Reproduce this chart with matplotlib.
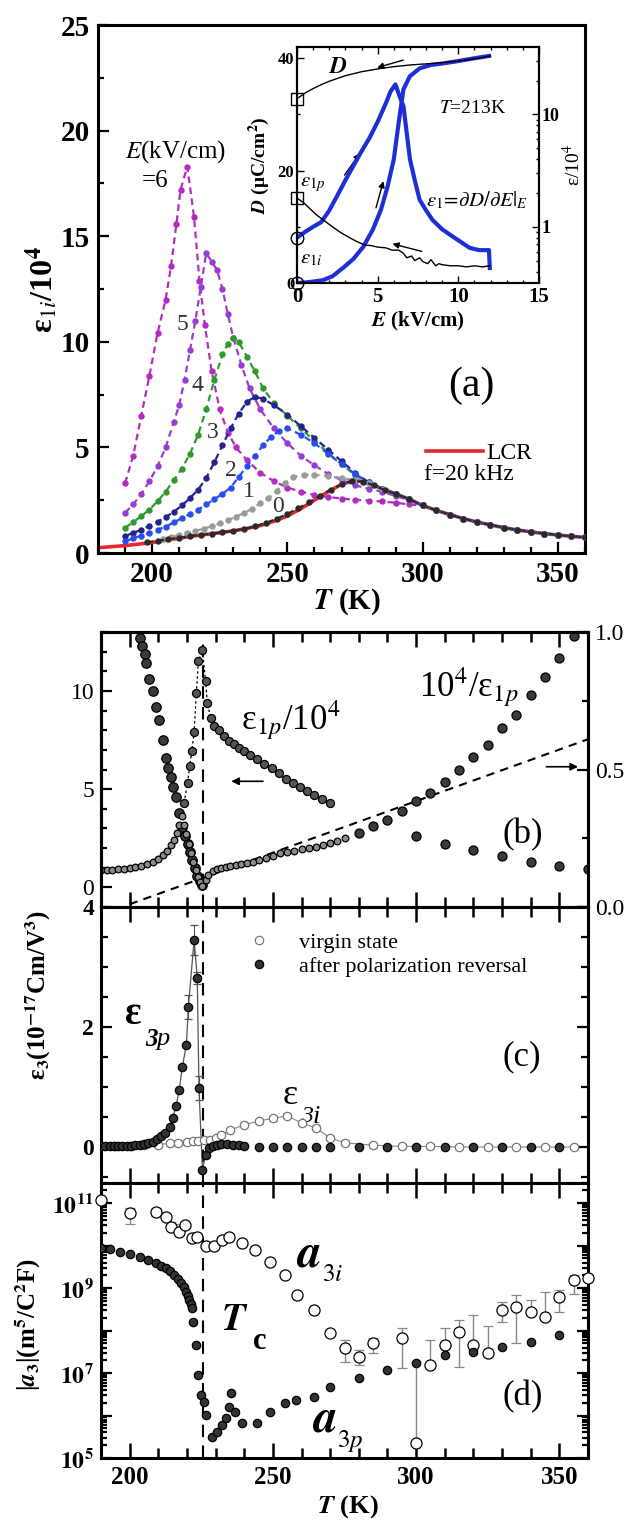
import numpy as np
import matplotlib
matplotlib.use('Agg')
import matplotlib.pyplot as plt
from matplotlib.ticker import MultipleLocator, FixedLocator, FuncFormatter, LogLocator, NullFormatter
from matplotlib.lines import Line2D

plt.rcParams['font.family'] = 'serif'
plt.rcParams['font.serif'] = ['Liberation Serif', 'DejaVu Serif']
plt.rcParams['mathtext.fontset'] = 'stix'

# ---------------- panel (a): eps_1i/10^4 vs T at several bias fields
tail_T = [300, 305, 310, 315, 320, 325, 330, 335, 340, 345, 350, 355, 360]
tail_v = [2.25, 2.02, 1.82, 1.63, 1.47, 1.33, 1.2, 1.09, 1.0, 0.92, 0.85, 0.79, 0.74]

lcr_T = [180, 185, 190, 195, 200, 205, 210, 215, 220, 225, 230, 235, 240, 245, 250, 255, 260, 265, 270, 275, 280, 285, 290, 295]
lcr_v = [0.25, 0.3, 0.35, 0.42, 0.5, 0.6, 0.7, 0.8, 0.88, 0.96, 1.05, 1.16, 1.3, 1.5, 1.75, 2.1, 2.5, 2.9, 3.25, 3.45, 3.3, 3.05, 2.8, 2.55]

c0_T = [198, 202, 206, 210, 214, 218, 222, 226, 230, 234, 238, 242, 246, 250, 254, 258, 262, 266, 270, 274, 278, 282, 286, 290, 295]
c0_v = [0.5, 0.58, 0.65, 0.72, 0.8, 0.86, 0.92, 0.98, 1.05, 1.14, 1.26, 1.42, 1.62, 1.85, 2.12, 2.4, 2.7, 3.0, 3.25, 3.42, 3.38, 3.2, 2.98, 2.8, 2.55]
c1_T = [204, 207, 210, 213, 216, 219, 222, 225, 228, 231, 234, 237, 240, 243, 246, 249, 252, 256, 260, 265, 270, 275, 280, 285, 290, 295]
c1_v = [0.65, 0.75, 0.85, 0.95, 1.05, 1.15, 1.27, 1.4, 1.55, 1.72, 1.9, 2.1, 2.35, 2.6, 2.95, 3.3, 3.6, 3.7, 3.7, 3.65, 3.55, 3.45, 3.3, 3.05, 2.8, 2.55]
c2_T = [190, 193, 196, 199, 202, 205, 208, 211, 214, 217, 220, 223, 226, 229, 232, 235, 238, 241, 244, 247, 250, 255, 260, 265, 270, 275, 280, 285, 290, 295]
c2_v = [0.55, 0.7, 0.82, 0.95, 1.1, 1.25, 1.45, 1.65, 1.85, 2.05, 2.3, 2.55, 2.8, 3.1, 3.6, 4.1, 4.6, 5.1, 5.5, 5.8, 5.9, 5.6, 5.2, 4.7, 4.2, 3.75, 3.35, 3.05, 2.8, 2.55]
c3_T = [190, 193, 196, 199, 202, 205, 208, 211, 214, 217, 220, 223, 226, 229, 232, 235, 238, 241, 245, 250, 255, 260, 265, 270, 275, 280, 285, 290, 295]
c3_v = [0.8, 0.95, 1.1, 1.28, 1.48, 1.7, 1.95, 2.25, 2.6, 3.0, 3.55, 4.3, 5.1, 5.9, 6.6, 7.15, 7.4, 7.3, 7.0, 6.55, 6.0, 5.45, 4.9, 4.35, 3.8, 3.35, 3.05, 2.8, 2.55]
c4_T = [190, 193, 196, 199, 202, 205, 208, 211, 214, 217, 220, 223, 226, 228, 230, 232, 235, 238, 241, 245, 250, 255, 260, 265, 270, 275, 280, 285, 290, 295]
c4_v = [1.2, 1.45, 1.75, 2.05, 2.45, 2.9, 3.45, 4.0, 4.7, 5.6, 6.8, 8.2, 9.4, 9.9, 10.2, 10.0, 9.3, 8.6, 7.8, 7.1, 6.5, 5.9, 5.3, 4.75, 4.2, 3.7, 3.3, 3.05, 2.8, 2.55]
c5_T = [190, 193, 196, 199, 202, 205, 208, 210, 212, 214, 216, 218, 220, 222, 224, 226, 228, 230, 233, 236, 240, 245, 250, 255, 260, 265, 270, 275, 280, 285, 290, 295]
c5_v = [1.9, 2.3, 2.8, 3.4, 4.1, 5.0, 6.2, 7.0, 8.2, 9.6, 11.0, 12.6, 14.2, 13.8, 13.4, 12.5, 11.3, 10.2, 8.9, 7.8, 6.8, 5.9, 5.2, 4.6, 4.15, 3.75, 3.45, 3.2, 3.05, 2.9, 2.7, 2.5]
c6_T = [190, 193, 196, 199, 202, 205, 207, 209, 210.5, 213, 215.5, 217.5, 219.5, 222, 225, 228, 231, 235, 240, 245, 250, 255, 260, 265, 270, 275, 280, 285, 290, 295]
c6_v = [3.3, 4.6, 6.5, 8.4, 10.4, 12.0, 13.6, 15.6, 17.2, 18.3, 15.9, 12.9, 10.8, 8.6, 6.8, 5.7, 5.0, 4.4, 3.8, 3.4, 3.1, 2.9, 2.75, 2.65, 2.58, 2.52, 2.48, 2.44, 2.38, 2.3]

field_curves = [(c6_T, c6_v, '#b22cc0'), (c5_T, c5_v, '#9a3cd0'), (c4_T, c4_v, '#2e9a2e'),
                (c3_T, c3_v, '#23238f'), (c2_T, c2_v, '#2a4df0'), (c1_T, c1_v, '#9a9a9a'),
                (c0_T, c0_v, '#2a2a2a')]
field_labels = ['5', '4', '3', '2', '1', '0']
field_label_T = [211.3, 216.8, 222.4, 229.0, 235.8, 246.6]
field_label_v = [10.8, 7.95, 5.7, 3.9, 2.9, 2.2]

# inset: D and eps_1 vs E at T = 213 K
E_up = [0, 0.5, 1, 1.6, 2.2, 2.9, 3.5, 4.1, 4.7, 5.2, 5.6, 6.0, 6.3, 6.6, 7.0, 7.6, 8.3, 9.1, 10, 11, 11.9]
D_up = [0, 0.1, 0.25, 0.5, 1.2, 2.8, 4.3, 6.4, 9.5, 13.0, 17.0, 22.0, 28.5, 34.5, 36.8, 38.2, 38.8, 39.1, 39.5, 40.0, 40.4]
E_dn = [0, 0.5, 1, 1.5, 2, 3, 4, 5, 6, 7, 8, 9, 10, 11, 12]
D_dn = [32.8, 33.8, 34.6, 35.3, 35.9, 36.9, 37.6, 38.1, 38.5, 38.8, 39.0, 39.2, 39.5, 39.9, 40.4]
Eps_E_up = [0, 0.5, 1, 1.5, 2, 2.5, 3, 3.5, 4, 4.5, 5, 5.5, 5.8, 6.1, 6.4, 6.6, 7.0, 7.3, 7.6, 8.0, 8.4, 9.0, 9.7, 10.7, 11.3, 11.9, 11.95]
Eps_up = [0.8, 0.9, 1.0, 1.1, 1.4, 1.9, 2.6, 3.5, 4.7, 6.2, 8.6, 12.5, 16.0, 18.5, 14.0, 11.8, 4.0, 2.6, 1.74, 1.4, 1.15, 0.95, 0.81, 0.65, 0.62, 0.62, 0.43]
Eps_E_dn = [11.95, 11.5, 11.0, 10.5, 10.0, 9.5, 9.0, 8.8, 8.6, 8.3, 8.1, 7.8, 7.6, 7.3, 7.1, 6.8, 6.6, 6.3, 5.9, 5.5, 5.0, 4.6, 4.2, 3.7, 3.2, 2.7, 2.2, 1.7, 1.2, 0.8, 0.45, 0.2, 0]
Eps_dn = [0.45, 0.44, 0.45, 0.44, 0.45, 0.45, 0.46, 0.47, 0.45, 0.51, 0.47, 0.49, 0.53, 0.5, 0.55, 0.53, 0.58, 0.62, 0.62, 0.65, 0.66, 0.68, 0.69, 0.74, 0.81, 0.89, 1.0, 1.13, 1.28, 1.45, 1.62, 1.72, 1.8]

# ---------------- panel (b)
Tc = 225.5
bA_T = [201.5, 202.5, 203.5, 204.4, 205.2, 205.8, 206.9, 208, 209.2, 210.4, 211.5, 212.7, 213.5, 214.4, 215.3, 216.2, 217.3, 218.4, 219.3, 220.2, 221.0, 221.9, 222.8, 223.6, 224.5, 225.4]
bA_v = [13.6, 13.2, 12.7, 12.3, 11.9, 11.4, 10.6, 10.0, 9.2, 8.5, 7.5, 6.6, 6.1, 5.6, 5.1, 4.6, 3.8, 3.05, 2.6, 2.23, 1.8, 1.37, 1.0, 0.6, 0.3, 0.1]
bP_T = [219, 220.2, 221, 221.7, 222.5, 223.3, 224, 225.4, 226.5, 227.1, 228.3, 229.4, 231.1, 232.9, 234.6, 236.3, 238, 239.8, 242, 244.4, 247, 249.6, 252, 254.7, 257, 259.6, 262, 264.5, 267, 270]
bP_v = [4.3, 5.3, 6.2, 6.95, 7.9, 9.9, 11.5, 12.1, 10.5, 9.4, 8.6, 8.2, 8.0, 7.7, 7.45, 7.3, 7.1, 6.95, 6.75, 6.55, 6.3, 6.1, 5.8, 5.5, 5.3, 5.1, 4.9, 4.7, 4.5, 4.3]
bS_T = [300, 310, 320, 330, 340, 350, 360]
bS_v = [2.6, 2.2, 1.9, 1.6, 1.3, 1.1, 0.95]
rec_T = [190, 192, 194, 196, 198, 200, 202, 204, 206, 208, 210, 211.5, 213, 214.5, 215.5, 216.5, 217.3, 218.2,
         219, 219.8, 220.6, 221.4, 222.2, 223, 223.8, 224.6, 225.4, 226.5, 227.5, 229, 230.5, 232, 233.5, 235,
         237, 239, 241, 243, 245, 247.5, 250, 252.5, 255, 257.5, 260, 262.5, 265, 267.5, 270, 272.5, 275]
rec_v = [0.135, 0.135, 0.136, 0.138, 0.14, 0.142, 0.146, 0.15, 0.156, 0.163, 0.175, 0.188, 0.205, 0.225, 0.245, 0.27, 0.3, 0.33,
         0.3, 0.265, 0.23, 0.195, 0.165, 0.135, 0.11, 0.09, 0.075, 0.1, 0.118, 0.132, 0.138, 0.142, 0.146, 0.149,
         0.152, 0.155, 0.16, 0.164, 0.17, 0.178, 0.186, 0.195, 0.2, 0.205, 0.21, 0.215, 0.22, 0.226, 0.233, 0.24, 0.25]
recS_T = [280, 285, 290, 295, 300, 305, 310, 315, 320, 325, 330, 335, 340, 345, 350, 355]
recS_v = [0.27, 0.295, 0.318, 0.35, 0.385, 0.415, 0.455, 0.5, 0.545, 0.59, 0.65, 0.7, 0.77, 0.835, 0.905, 0.985]
cw_T = [200, 360]
cw_v = [0.01, 0.61]

# ---------------- panel (c)
cp_T = [190, 191.5, 193, 194.5, 196, 197.5, 199, 200.5, 202, 203.5, 205, 206.5, 208, 209.5, 211, 212.5, 214, 215,
        216.2, 217.3, 218.4, 219.8, 220.5, 222.5, 223.6, 224.2, 225.4, 226.5, 227.7, 229, 230.5, 232, 234, 236,
        238, 240, 245, 250, 255, 260, 265, 270, 280, 290, 300, 310, 320, 330, 340, 350]
cp_v = [0.01, 0.01, 0.01, 0.015, 0.015, 0.02, 0.02, 0.025, 0.03, 0.035, 0.045, 0.06, 0.09, 0.13, 0.18, 0.24, 0.33, 0.48,
        0.68, 0.95, 1.34, 1.7, 2.33, 3.45, 2.82, 0.98, -0.38, -0.13, -0.02, 0.02, 0.04, 0.05, 0.05, 0.04,
        0.03, 0.02, 0, 0, 0, 0, 0, 0, 0, 0, 0, 0, 0, 0, 0, 0]
cp_err = [0] * 22 + [0.2, 0.25, 0.1, 0.2] + [0] * 24
ci_T = [195, 200, 205, 210, 214, 217, 220, 222, 224, 226, 228, 230, 232, 235, 240, 245, 250, 255, 260, 265, 270, 275, 285, 295, 305, 315, 325, 335, 345, 355]
ci_v = [0.02, 0.02, 0.03, 0.04, 0.06, 0.07, 0.08, 0.1, 0.1, 0.12, 0.12, 0.15, 0.2, 0.28, 0.37, 0.43, 0.48, 0.52, 0.4, 0.32, 0.15, 0.07, 0.03, 0.01, 0.01, 0, 0, 0, 0, 0]
ci_err = [0.04] * 30

# ---------------- panel (d): log10 |a3|
dp_T = [190, 193, 196.5, 200, 203.5, 206.5, 209.2, 211, 212.7, 214.2, 215.6, 216.8, 217.9, 218.8, 219.6, 220.3, 220.8,
        221.4, 221.9, 222.2, 223, 224, 224.8, 226, 226.8, 228.8, 230.6, 232.3, 233.5, 234.6, 235.5, 236.9, 239.2,
        244.4, 249, 254.2, 258.2, 264.5, 270, 280, 290, 300, 310, 320, 330, 340, 350]
dp_log = [9.94, 9.92, 9.85, 9.8, 9.73, 9.66, 9.59, 9.53, 9.47, 9.4, 9.31, 9.22, 9.12, 9.02, 8.91, 8.82, 8.72,
          8.63, 8.53, 8.2, 7.66, 6.95, 6.48, 6.32, 6.01, 5.49, 5.61, 5.78, 5.94, 6.2, 6.53, 6.08, 5.82,
          5.82, 6.08, 6.29, 6.36, 6.44, 6.67, 6.88, 7.07, 7.24, 7.42, 7.5, 7.61, 7.73, 7.89]
di_T = [190, 200, 209.2, 212.7, 214.4, 217.3, 219.4, 221.9, 223.6, 226.5, 229.4, 232.3, 234.6, 239.2, 243.8, 249, 254.2,
        258.5, 264.5, 270, 275, 280, 285, 295, 300, 305, 310, 315, 320, 325, 330, 335, 340, 345, 350, 355, 360]
di_log = [11.07, 10.76, 10.79, 10.67, 10.44, 10.32, 10.48, 10.18, 10.2, 10.0, 10.0, 10.13, 10.2, 10.06, 9.9, 9.62, 9.31,
          8.84, 8.48, 7.94, 7.59, 7.38, 7.7, 7.82, 5.35, 7.19, 7.66, 7.96, 7.66, 7.47, 8.48, 8.56, 8.44, 8.33, 8.8, 9.19, 9.23]
di_lo = [11.07, 10.5, 10.7, 10.6, 10.38, 10.25, 10.48, 10.1, 10.1, 9.95, 10.0, 10.13, 10.2, 10.06, 9.9, 9.62, 9.31,
         8.84, 8.48, 7.94, 7.26, 7.2, 7.47, 7.12, 5.35, 7.19, 7.62, 7.14, 7.54, 7.47, 8.2, 7.7, 8.44, 8.33, 8.44, 8.86, 9.23]
di_hi = [11.07, 10.9, 10.88, 10.75, 10.55, 10.5, 10.52, 10.25, 10.3, 10.05, 10.0, 10.13, 10.2, 10.06, 9.9, 9.62, 9.31,
         8.84, 8.48, 7.94, 7.78, 7.55, 7.82, 8.06, 7.26, 7.78, 8.06, 8.25, 8.36, 8.1, 8.68, 8.84, 8.72, 8.9, 8.96, 9.3, 9.23]

W, H = 633, 1524
def box(l, t, r, b):
    return [l / W, 1 - b / H, (r - l) / W, (b - t) / H]

fig = plt.figure(figsize=(W / 100, H / 100), dpi=100)
ax_a = fig.add_axes(box(98, 25, 585, 553))
ax_b = fig.add_axes(box(101, 632, 588, 907))
ax_c = fig.add_axes(box(101, 907, 588, 1183))
ax_d = fig.add_axes(box(101, 1183, 588, 1458))
ins = fig.add_axes(box(297, 47, 539, 283))

# ----- (a)
for T, v, c in field_curves:
    ax_a.plot(T + tail_T, v + tail_v, ls='--', dashes=(3, 2), lw=1.6, color=c,
              marker='o', ms=3.6, mfc=c, mec=c, zorder=3)
lcr_line, = ax_a.plot(lcr_T + tail_T, lcr_v + tail_v, '-', color='#e8262b', lw=2.6, zorder=2)
for s, x, y in zip(field_labels, field_label_T, field_label_v):
    ax_a.text(x, y, s, fontsize=17, color='#333333', ha='center', va='center')
ax_a.text(208.5, 19.0, r'$E$(kV/cm)', fontsize=18, ha='center', va='center')
ax_a.text(201, 17.6, '=6', fontsize=18, ha='center', va='center')
ax_a.text(318, 7.9, '(a)', fontsize=30, ha='center', va='center')
ax_a.text(300.4, 3.7, 'f=20 kHz', fontsize=17, ha='left', va='center')
ax_a.legend([lcr_line], ['LCR'], loc='upper left', bbox_to_anchor=(0.63, 0.25), frameon=False,
            fontsize=17, handlelength=2.4, handletextpad=0.15)
ax_a.set_xlim(180, 360)
ax_a.set_ylim(0, 25)
ax_a.xaxis.set_major_locator(MultipleLocator(50))
ax_a.xaxis.set_minor_locator(MultipleLocator(10))
ax_a.yaxis.set_major_locator(MultipleLocator(5))
ax_a.yaxis.set_minor_locator(MultipleLocator(2.5))
ax_a.tick_params(which='both', direction='in', width=1.6, labelsize=21, pad=6)
ax_a.tick_params(which='major', length=8)
ax_a.tick_params(which='minor', length=4)
plt.setp(ax_a.get_xticklabels() + ax_a.get_yticklabels(), fontweight='bold')
for sp in ax_a.spines.values():
    sp.set_linewidth(2.2)
fig.text(42 / W, 1 - 290 / H, 'ε$_{1i}$/10$^{\\mathbf{4}}$', rotation=90, fontsize=23, fontweight='bold',
         ha='center', va='center')
fig.text(347 / W, 1 - 602 / H, r'$\mathbfit{T}$ (K)', fontsize=21, fontweight='bold', ha='center', va='center')

# ----- inset
ins2 = ins.twinx()
ins.plot(E_up, D_up, '-', color='#1f2fd6', lw=3, zorder=3)
ins.plot(E_dn, D_dn, '-', color='k', lw=1.0, zorder=4)
ins2.plot(Eps_E_up, Eps_up, '-', color='#1f2fd6', lw=3)
ins2.plot(Eps_E_dn, Eps_dn, '-', color='k', lw=1.0)
ins.plot(E_dn[:1], D_dn[:1], 's', ms=9, mfc='none', mec='k', mew=1.0, clip_on=False, zorder=5)
ins.plot(E_up[:1], D_up[:1], 'o', ms=9, mfc='none', mec='k', mew=1.0, clip_on=False, zorder=5)
ins2.plot(Eps_E_dn[-1:], Eps_dn[-1:], 's', ms=9, mfc='none', mec='k', mew=1.0, clip_on=False, zorder=5)
ins2.plot(Eps_E_up[:1], Eps_up[:1], 'o', ms=9, mfc='none', mec='k', mew=1.0, clip_on=False, zorder=5)
arrow = dict(arrowstyle='-|>', color='k', lw=1.0, mutation_scale=9)
ins.annotate('', xy=(4.8, 38.2), xytext=(6.75, 39.8), arrowprops=arrow)
ins.annotate('', xy=(4.0, 23.5), xytext=(2.85, 18.8), arrowprops=arrow)
ins.annotate('', xy=(5.4, 18.6), xytext=(4.85, 12.9), arrowprops=arrow)
ins.annotate('', xy=(5.75, 7.1), xytext=(7.9, 5.5), arrowprops=arrow)
ins.text(2.5, 38.3, r'$\mathbfit{D}$', fontsize=17, ha='center', va='center')
ins.text(10.9, 31.0, r'$T$=213K', fontsize=14, ha='center', va='center')
ins.text(8.0, 14.7, r'$\varepsilon_{1}\!=\!\partial D/\partial E|_{E}$', fontsize=15, ha='left', va='center')
ins.text(0.2, 17.6, r'$\varepsilon_{1p}$', fontsize=15, ha='left', va='center')
ins.text(0.2, 4.3, r'$\varepsilon_{1i}$', fontsize=15, ha='left', va='center')
ins.set_xlim(0, 15)
ins.set_ylim(0, 42)
ins2.set_yscale('log')
ins2.set_ylim(10 ** -0.5, 10 ** 1.6)
ins.xaxis.set_major_locator(MultipleLocator(5))
ins.xaxis.set_minor_locator(MultipleLocator(1))
ins.yaxis.set_major_locator(MultipleLocator(20))
ins.yaxis.set_minor_locator(MultipleLocator(10))
ins.tick_params(which='both', direction='in', top=True, width=1.0, pad=3)
ins.tick_params(which='major', length=5)
ins.tick_params(which='minor', length=2.5)
ins.tick_params(axis='x', labelsize=15)
ins.tick_params(axis='y', labelsize=12, pad=2)
ins2.yaxis.set_major_locator(FixedLocator([1, 10]))
ins2.yaxis.set_major_formatter(FuncFormatter(lambda v, p: '%g' % v))
ins2.yaxis.set_minor_locator(LogLocator(base=10, subs=np.arange(2, 10)))
ins2.yaxis.set_minor_formatter(NullFormatter())
ins2.tick_params(which='both', direction='in', width=1.0, labelsize=13, pad=2)
ins2.tick_params(which='major', length=5)
ins2.tick_params(which='minor', length=2.5)
plt.setp(ins.get_xticklabels() + ins.get_yticklabels() + ins2.get_yticklabels(), fontweight='bold')
for a in (ins, ins2):
    for sp in a.spines.values():
        sp.set_linewidth(1.5)
ins.set_xlabel(r'$\mathbfit{E}$ (kV/cm)', fontsize=15, fontweight='bold', labelpad=2)
ins.set_ylabel(r'$\mathbfit{D}$ (μC/cm$^{\mathbf{2}}$)', fontsize=14, fontweight='bold', labelpad=4)
ins2.set_ylabel('ε/10$^4$', fontsize=14, rotation=90, labelpad=2)

# ----- shared style for (b), (c), (d)
def style_lower(ax, labels):
    ax.set_xlim(190, 360)
    ax.xaxis.set_major_locator(MultipleLocator(50))
    ax.xaxis.set_minor_locator(MultipleLocator(10))
    ax.tick_params(axis='x', which='both', direction='in', top=True, bottom=True, width=1.8,
                   labelbottom=labels, labelsize=18, pad=6)
    ax.tick_params(axis='x', which='major', length=11)
    ax.tick_params(axis='x', which='minor', length=7)
    for sp in ax.spines.values():
        sp.set_linewidth(2.2)

# ----- (b)
ax_b2 = ax_b.twinx()
ax_b.axvline(Tc, ymax=0.955, color='k', ls='--', dashes=(6, 4), lw=1.5, zorder=1)
ax_b2.plot(cw_T, cw_v, '--', color='k', dashes=(4, 3), lw=1.5)
ax_b2.plot(rec_T, rec_v, 'o', ms=4.8, mfc='#8c8c8c', mec='k', mew=0.9)
ax_b2.plot(recS_T, recS_v, 'o', ms=6.5, mfc='#3a3a3a', mec='k', mew=0.9, clip_on=False)
ax_b.plot(bA_T, bA_v, 'o', ms=6.8, mfc='#3a3a3a', mec='k', mew=0.9, zorder=3)
ax_b.plot(bP_T, bP_v, 'o', ls=(0, (2, 2)), lw=0.9, color='k', ms=5.8, mfc='#555555', mec='k', mew=0.9, zorder=3)
ax_b.plot(bS_T, bS_v, 'o', ms=6.5, mfc='#3a3a3a', mec='k', mew=0.9, zorder=3)
ax_b.annotate('', xy=(234.5, 5.4), xytext=(247.5, 5.4),
              arrowprops=dict(arrowstyle='-|>', color='k', lw=1.2, mutation_scale=11))
ax_b2.annotate('', xy=(357.5, 0.51), xytext=(344.5, 0.51),
               arrowprops=dict(arrowstyle='-|>', color='k', lw=1.2, mutation_scale=11))
ax_b.text(239, 8.5, 'ε$_{1p}$/10$^4$', fontsize=25, ha='left', va='center')
ax_b.text(301, 10.2, '10$^4$/ε$_{1p}$', fontsize=25, ha='left', va='center')
ax_b.text(330, 2.7, '(b)', fontsize=25, ha='left', va='center')
ax_b.set_ylim(-1, 13)
ax_b.yaxis.set_major_locator(MultipleLocator(5))
ax_b.yaxis.set_minor_locator(MultipleLocator(1))
ax_b.tick_params(axis='y', which='both', direction='in', width=1.6, labelsize=17, pad=5)
ax_b.tick_params(axis='y', which='major', length=8)
ax_b.tick_params(axis='y', which='minor', length=4)
ax_b2.set_ylim(0, 1.0)
ax_b2.yaxis.set_major_locator(MultipleLocator(0.5))
ax_b2.yaxis.set_minor_locator(MultipleLocator(0.25))
ax_b2.yaxis.set_major_formatter(FuncFormatter(lambda v, p: '%.1f' % v))
ax_b2.tick_params(axis='y', which='both', direction='in', width=1.6, labelsize=17, pad=5)
ax_b2.tick_params(axis='y', which='major', length=8)
ax_b2.tick_params(axis='y', which='minor', length=4)
style_lower(ax_b, False)
for sp in ax_b2.spines.values():
    sp.set_linewidth(2.2)

# ----- (c)
ax_c.axvline(Tc, color='k', ls='--', dashes=(6, 4), lw=1.5, zorder=1)
n_line = sum(1 for t in cp_T if t <= 240)
ax_c.plot(ci_T, ci_v, '-', color='#888888', lw=0.8, zorder=2)
ax_c.errorbar(ci_T, ci_v, yerr=ci_err, fmt='o', ms=6, mfc='white', mec='#777777', mew=0.9,
              ecolor='#888888', elinewidth=0.8, capsize=3, zorder=3)
ax_c.plot(cp_T[:n_line], cp_v[:n_line], '-', color='#555555', lw=0.9, zorder=2)
ax_c.errorbar(cp_T, cp_v, yerr=cp_err, fmt='o', ms=6, mfc='#333333', mec='k', mew=0.9,
              ecolor='#555555', elinewidth=0.8, capsize=3, zorder=4)
h_v = Line2D([], [], marker='o', ls='none', ms=6, mfc='white', mec='#777777', mew=0.9)
h_p = Line2D([], [], marker='o', ls='none', ms=6, mfc='#333333', mec='k', mew=0.9)
ax_c.legend([h_v, h_p], ['virgin state', 'after polarization reversal'], loc='upper left',
            bbox_to_anchor=(0.27, 0.965), frameon=False, fontsize=16, handlelength=1.0,
            handletextpad=1.3, labelspacing=0.15, borderpad=0.2)
ax_c.text(198.5, 2.2, 'ε', fontsize=28, fontweight='bold', ha='left', va='center')
ax_c.text(205.5, 1.8, '3', fontsize=18, fontweight='bold', fontstyle='italic', ha='left', va='center')
ax_c.text(209.5, 1.8, 'p', fontsize=19, fontstyle='italic', ha='left', va='center')
ax_c.text(253.3, 0.85, 'ε', fontsize=26, ha='left', va='center')
ax_c.text(260, 0.5, '3', fontsize=17, fontstyle='italic', ha='left', va='center')
ax_c.text(264, 0.5, 'i', fontsize=19, fontstyle='italic', ha='left', va='center')
ax_c.text(330, 1.5, '(c)', fontsize=25, ha='left', va='center')
ax_c.set_ylim(-0.6, 4)
ax_c.yaxis.set_major_locator(MultipleLocator(2))
ax_c.yaxis.set_minor_locator(MultipleLocator(0.5))
ax_c.tick_params(axis='y', which='both', direction='in', right=True, width=1.6, labelsize=17, pad=5)
ax_c.tick_params(axis='y', which='major', length=8)
ax_c.tick_params(axis='y', which='minor', length=5)
plt.setp(ax_c.get_yticklabels(), fontweight='bold')
style_lower(ax_c, False)
fig.text(38 / W, 1 - 995 / H, 'ε$_{\\mathbf{3}}$(10$^{\\mathbf{-17}}$Cm/V$^{\\mathbf{3}}$)', rotation=90,
         fontsize=18, fontweight='bold', ha='center', va='center')

# ----- (d)
dp = 10.0 ** np.array(dp_log)
di = 10.0 ** np.array(di_log)
di_err = [di - 10.0 ** np.array(di_lo), 10.0 ** np.array(di_hi) - di]
ax_d.axvline(Tc, color='k', ls='--', dashes=(6, 4), lw=1.5, zorder=1)
ax_d.errorbar(di_T, di, yerr=di_err, fmt='o', ms=8, mfc='white', mec='k', mew=0.9,
              ecolor='#888888', elinewidth=1.0, capsize=3.5, zorder=3, clip_on=False)
ax_d.plot(dp_T, dp, 'o', ms=6, mfc='#333333', mec='k', mew=0.9, zorder=4)
ax_d.set_yscale('log')
ax_d.set_ylim(1e5, 3e11)
ax_d.yaxis.set_major_locator(FixedLocator([1e5, 1e6, 1e7, 1e8, 1e9, 1e10, 1e11]))
ax_d.yaxis.set_major_formatter(FuncFormatter(
    lambda v, p: r'$\mathbf{10^{%d}}$' % round(np.log10(v)) if round(np.log10(v)) % 2 == 1 else ''))
ax_d.yaxis.set_minor_locator(LogLocator(base=10, subs=np.arange(2, 10), numticks=20))
ax_d.yaxis.set_minor_formatter(NullFormatter())
ax_d.tick_params(axis='y', which='both', direction='in', right=True, width=1.6, labelsize=17, pad=5)
ax_d.tick_params(axis='y', which='major', length=8)
ax_d.tick_params(axis='y', which='minor', length=4)
ax_d.text(258, 10 ** 9.78, r'$\mathbfit{a}$', fontsize=34, ha='left', va='center')
ax_d.text(267, 10 ** 9.3, r'$\mathit{3i}$', fontsize=18, ha='left', va='center')
ax_d.text(263.5, 10 ** 5.9, r'$\mathbfit{a}$', fontsize=34, ha='left', va='center')
ax_d.text(272.5, 10 ** 5.4, r'$\mathit{3p}$', fontsize=18, ha='left', va='center')
ax_d.text(232.0, 10 ** 8.25, r'$\mathbfit{T}$', fontsize=28, ha='left', va='center')
ax_d.text(243.0, 10 ** 7.75, 'c', fontsize=22, fontweight='bold', ha='left', va='center')
ax_d.text(330, 10 ** 6.45, '(d)', fontsize=25, ha='left', va='center')
style_lower(ax_d, True)
plt.setp(ax_d.get_xticklabels(), fontweight='bold')
fig.text(28 / W, 1 - 1325 / H, r'|$\mathbfit{a}_{\mathbf{3}}$|(m$^{\mathbf{5}}$/C$^{\mathbf{2}}$F)', rotation=90,
         fontsize=18, fontweight='bold', ha='center', va='center')
fig.text(348 / W, 1 - 1507 / H, r'$\mathbfit{T}$ (K)', fontsize=19, fontweight='bold', ha='center', va='center')

fig.savefig('out.png', dpi=100)
